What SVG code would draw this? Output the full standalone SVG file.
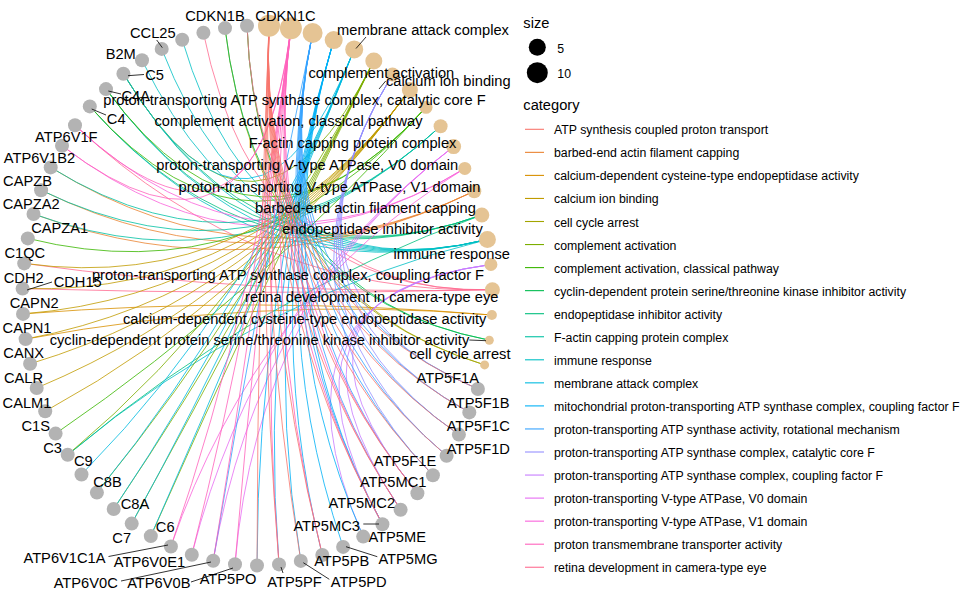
<svg xmlns="http://www.w3.org/2000/svg" width="960" height="593" viewBox="0 0 960 593">
<style>
.bg{fill:#fff}
#edges path{fill:none;stroke-width:1;stroke-opacity:.8}
.k0{stroke:#F8766D}.k1{stroke:#EA8331}.k2{stroke:#D89000}.k3{stroke:#C09B00}.k4{stroke:#A3A500}
.k5{stroke:#7CAE00}.k6{stroke:#39B600}.k7{stroke:#00BB4E}.k8{stroke:#00BF7D}.k9{stroke:#00C1A3}
.k10{stroke:#00BFC4}.k11{stroke:#00BAE0}.k12{stroke:#00B0F6}.k13{stroke:#35A2FF}.k14{stroke:#9590FF}
.k15{stroke:#C77CFF}.k16{stroke:#E76BF3}.k17{stroke:#FA62DB}.k18{stroke:#FF62BC}.k19{stroke:#FF6C91}
.cat{fill:#E5C494}
.gene{fill:#B3B3B3}
.lb{font-family:"Liberation Sans",Arial,Helvetica,sans-serif;font-size:14.67px;fill:#000;text-anchor:middle}
.seg{stroke:#000;stroke-width:.8;fill:none}
.lt{font-family:"Liberation Sans",Arial,Helvetica,sans-serif;font-size:14.67px;fill:#000}
.lg{font-family:"Liberation Sans",Arial,Helvetica,sans-serif;font-size:12.3px;fill:#000}
#legend line{stroke-width:1.1}
</style>
<rect class="bg" x="0" y="0" width="960" height="593"/>
<g id="edges">
<g class="k4">
<path d="M247 25.8Q257.5 295.5 484.6 364.9"/>
<path d="M225 28.1Q257.5 295.5 484.6 364.9"/>
</g>
<g class="k7">
<path d="M247 25.8Q257.5 295.5 489.3 340.2"/>
<path d="M225 28.1Q257.5 295.5 489.3 340.2"/>
</g>
<g class="k2">
<path d="M23 313.9Q257.5 295.5 491.9 315"/>
<path d="M25.6 339.1Q257.5 295.5 491.9 315"/>
</g>
<g class="k19">
<path d="M247 25.8Q257.5 295.5 492.4 289.7"/>
<path d="M203.4 32.8Q257.5 295.5 492.4 289.7"/>
<path d="M24.2 263.4Q257.5 295.5 492.4 289.7"/>
<path d="M22.6 288.6Q257.5 295.5 492.4 289.7"/>
<path d="M75 125.3Q257.5 295.5 492.4 289.7"/>
</g>
<g class="k15">
<path d="M363.2 536.6Q257.5 295.5 490.9 264.5"/>
<path d="M382.4 524.2Q257.5 295.5 490.9 264.5"/>
<path d="M400.6 509.7Q257.5 295.5 490.9 264.5"/>
<path d="M417.4 493.3Q257.5 295.5 490.9 264.5"/>
</g>
<g class="k10">
<path d="M182.2 39.7Q257.5 295.5 487.4 239.5"/>
<path d="M161.7 48.9Q257.5 295.5 487.4 239.5"/>
<path d="M142 60.3Q257.5 295.5 487.4 239.5"/>
<path d="M123.4 73.8Q257.5 295.5 487.4 239.5"/>
<path d="M106 89.1Q257.5 295.5 487.4 239.5"/>
<path d="M89.8 106.4Q257.5 295.5 487.4 239.5"/>
<path d="M67.7 454.8Q257.5 295.5 487.4 239.5"/>
</g>
<g class="k8">
<path d="M123.4 73.8Q257.5 295.5 481.8 215"/>
<path d="M106 89.1Q257.5 295.5 481.8 215"/>
<path d="M89.8 106.4Q257.5 295.5 481.8 215"/>
<path d="M67.7 454.8Q257.5 295.5 481.8 215"/>
</g>
<g class="k1">
<path d="M50.7 167.4Q257.5 295.5 474.3 191.2"/>
<path d="M41.1 190.2Q257.5 295.5 474.3 191.2"/>
<path d="M33.5 214Q257.5 295.5 474.3 191.2"/>
</g>
<g class="k17">
<path d="M75 125.3Q257.5 295.5 464.8 168.4"/>
<path d="M62 145.7Q257.5 295.5 464.8 168.4"/>
<path d="M170.9 546.5Q257.5 295.5 464.8 168.4"/>
</g>
<g class="k16">
<path d="M191.8 554.7Q257.5 295.5 453.6 146.6"/>
<path d="M213.2 560.7Q257.5 295.5 453.6 146.6"/>
<path d="M235 564.3Q257.5 295.5 453.6 146.6"/>
</g>
<g class="k9">
<path d="M50.7 167.4Q257.5 295.5 440.6 126.2"/>
<path d="M41.1 190.2Q257.5 295.5 440.6 126.2"/>
<path d="M33.5 214Q257.5 295.5 440.6 126.2"/>
</g>
<g class="k6">
<path d="M106 89.1Q257.5 295.5 426 107.3"/>
<path d="M89.8 106.4Q257.5 295.5 426 107.3"/>
<path d="M27.8 238.4Q257.5 295.5 426 107.3"/>
<path d="M55.6 433.6Q257.5 295.5 426 107.3"/>
</g>
<g class="k3">
<path d="M24.2 263.4Q257.5 295.5 409.9 90"/>
<path d="M22.6 288.6Q257.5 295.5 409.9 90"/>
<path d="M23 313.9Q257.5 295.5 409.9 90"/>
<path d="M25.6 339.1Q257.5 295.5 409.9 90"/>
<path d="M30.1 363.8Q257.5 295.5 409.9 90"/>
<path d="M36.7 388Q257.5 295.5 409.9 90"/>
<path d="M45.2 411.3Q257.5 295.5 409.9 90"/>
</g>
<g class="k14">
<path d="M432.9 475.2Q257.5 295.5 392.5 74.5"/>
<path d="M446.6 455.7Q257.5 295.5 392.5 74.5"/>
<path d="M458.9 434.6Q257.5 295.5 392.5 74.5"/>
<path d="M469.3 412.4Q257.5 295.5 392.5 74.5"/>
<path d="M477.9 389Q257.5 295.5 392.5 74.5"/>
</g>
<g class="k5">
<path d="M123.4 73.8Q257.5 295.5 373.8 60.9"/>
<path d="M67.7 454.8Q257.5 295.5 373.8 60.9"/>
<path d="M96.9 492.6Q257.5 295.5 373.8 60.9"/>
<path d="M113.7 509Q257.5 295.5 373.8 60.9"/>
<path d="M131.7 523.6Q257.5 295.5 373.8 60.9"/>
<path d="M150.8 536.1Q257.5 295.5 373.8 60.9"/>
</g>
<g class="k11">
<path d="M123.4 73.8Q257.5 295.5 354.2 49.4"/>
<path d="M81.5 474.5Q257.5 295.5 354.2 49.4"/>
<path d="M96.9 492.6Q257.5 295.5 354.2 49.4"/>
<path d="M113.7 509Q257.5 295.5 354.2 49.4"/>
<path d="M131.7 523.6Q257.5 295.5 354.2 49.4"/>
<path d="M150.8 536.1Q257.5 295.5 354.2 49.4"/>
</g>
<g class="k12">
<path d="M257 565.5Q257.5 295.5 333.7 40.1"/>
<path d="M279 564.4Q257.5 295.5 333.7 40.1"/>
<path d="M300.8 560.9Q257.5 295.5 333.7 40.1"/>
<path d="M322.3 555Q257.5 295.5 333.7 40.1"/>
<path d="M343.1 546.9Q257.5 295.5 333.7 40.1"/>
<path d="M363.2 536.6Q257.5 295.5 333.7 40.1"/>
<path d="M382.4 524.2Q257.5 295.5 333.7 40.1"/>
</g>
<g class="k13">
<path d="M213.2 560.7Q257.5 295.5 312.6 33"/>
<path d="M382.4 524.2Q257.5 295.5 312.6 33"/>
<path d="M400.6 509.7Q257.5 295.5 312.6 33"/>
<path d="M417.4 493.3Q257.5 295.5 312.6 33"/>
<path d="M432.9 475.2Q257.5 295.5 312.6 33"/>
<path d="M446.6 455.7Q257.5 295.5 312.6 33"/>
<path d="M458.9 434.6Q257.5 295.5 312.6 33"/>
<path d="M469.3 412.4Q257.5 295.5 312.6 33"/>
<path d="M477.9 389Q257.5 295.5 312.6 33"/>
</g>
<g class="k18">
<path d="M75 125.3Q257.5 295.5 290.9 28.2"/>
<path d="M62 145.7Q257.5 295.5 290.9 28.2"/>
<path d="M170.9 546.5Q257.5 295.5 290.9 28.2"/>
<path d="M191.8 554.7Q257.5 295.5 290.9 28.2"/>
<path d="M213.2 560.7Q257.5 295.5 290.9 28.2"/>
<path d="M235 564.3Q257.5 295.5 290.9 28.2"/>
<path d="M279 564.4Q257.5 295.5 290.9 28.2"/>
<path d="M322.3 555Q257.5 295.5 290.9 28.2"/>
<path d="M382.4 524.2Q257.5 295.5 290.9 28.2"/>
<path d="M400.6 509.7Q257.5 295.5 290.9 28.2"/>
<path d="M417.4 493.3Q257.5 295.5 290.9 28.2"/>
</g>
<g class="k0">
<path d="M257 565.5Q257.5 295.5 269 25.8"/>
<path d="M279 564.4Q257.5 295.5 269 25.8"/>
<path d="M300.8 560.9Q257.5 295.5 269 25.8"/>
<path d="M322.3 555Q257.5 295.5 269 25.8"/>
<path d="M382.4 524.2Q257.5 295.5 269 25.8"/>
<path d="M400.6 509.7Q257.5 295.5 269 25.8"/>
<path d="M417.4 493.3Q257.5 295.5 269 25.8"/>
<path d="M432.9 475.2Q257.5 295.5 269 25.8"/>
<path d="M446.6 455.7Q257.5 295.5 269 25.8"/>
<path d="M458.9 434.6Q257.5 295.5 269 25.8"/>
<path d="M469.3 412.4Q257.5 295.5 269 25.8"/>
<path d="M477.9 389Q257.5 295.5 269 25.8"/>
</g>
</g>
<g id="nodes">
<g id="cat-cell-cycle-arrest"><circle class="cat" cx="484.6" cy="364.9" r="4.5"/></g>
<g id="cat-cyclin-dependent"><circle class="cat" cx="489.3" cy="340.2" r="4.5"/></g>
<g id="cat-calcium-dependent"><circle class="cat" cx="491.9" cy="315" r="5"/></g>
<g id="cat-retina"><circle class="cat" cx="492.4" cy="289.7" r="7.5"/></g>
<g id="cat-coupling-factor-f"><circle class="cat" cx="490.9" cy="264.5" r="6.5"/></g>
<g id="cat-immune-response"><circle class="cat" cx="487.4" cy="239.5" r="8.5"/></g>
<g id="cat-endopeptidase-inhibitor"><circle class="cat" cx="481.8" cy="215" r="7.5"/></g>
<g id="cat-barbed-end"><circle class="cat" cx="474.3" cy="191.2" r="7"/></g>
<g id="cat-v1-domain"><circle class="cat" cx="464.8" cy="168.4" r="6.5"/></g>
<g id="cat-v0-domain"><circle class="cat" cx="453.6" cy="146.6" r="7.5"/></g>
<g id="cat-f-actin"><circle class="cat" cx="440.6" cy="126.2" r="7"/></g>
<g id="cat-classical"><circle class="cat" cx="426" cy="107.3" r="6.5"/></g>
<g id="cat-calcium-ion"><circle class="cat" cx="409.9" cy="90" r="8"/></g>
<g id="cat-catalytic-core"><circle class="cat" cx="392.5" cy="74.5" r="7"/></g>
<g id="cat-complement-activation"><circle class="cat" cx="373.8" cy="60.9" r="8.5"/></g>
<g id="cat-membrane-attack"><circle class="cat" cx="354.2" cy="49.4" r="9"/></g>
<g id="cat-mito-coupling"><circle class="cat" cx="333.7" cy="40.1" r="9"/></g>
<g id="cat-rotational"><circle class="cat" cx="312.6" cy="33" r="10"/></g>
<g id="cat-proton-transmembrane"><circle class="cat" cx="290.9" cy="28.2" r="11"/></g>
<g id="cat-atp-synthesis"><circle class="cat" cx="269" cy="25.8" r="11"/></g>
<g id="g-CDKN1C"><circle class="gene" cx="247" cy="25.8" r="7"/></g>
<g id="g-CDKN1B"><circle class="gene" cx="225" cy="28.1" r="7"/></g>
<g id="g-gene22"><circle class="gene" cx="203.4" cy="32.8" r="7"/></g>
<g id="g-gene23"><circle class="gene" cx="182.2" cy="39.7" r="7"/></g>
<g id="g-CCL25"><circle class="gene" cx="161.7" cy="48.9" r="7"/></g>
<g id="g-B2M"><circle class="gene" cx="142" cy="60.3" r="7"/></g>
<g id="g-C5"><circle class="gene" cx="123.4" cy="73.8" r="7"/></g>
<g id="g-C4A"><circle class="gene" cx="106" cy="89.1" r="7"/></g>
<g id="g-C4"><circle class="gene" cx="89.8" cy="106.4" r="7"/></g>
<g id="g-ATP6V1F"><circle class="gene" cx="75" cy="125.3" r="7"/></g>
<g id="g-ATP6V1B2"><circle class="gene" cx="62" cy="145.7" r="7"/></g>
<g id="g-CAPZB"><circle class="gene" cx="50.7" cy="167.4" r="7"/></g>
<g id="g-CAPZA2"><circle class="gene" cx="41.1" cy="190.2" r="7"/></g>
<g id="g-CAPZA1"><circle class="gene" cx="33.5" cy="214" r="7"/></g>
<g id="g-C1QC"><circle class="gene" cx="27.8" cy="238.4" r="7"/></g>
<g id="g-CDH2"><circle class="gene" cx="24.2" cy="263.4" r="7"/></g>
<g id="g-CDH15"><circle class="gene" cx="22.6" cy="288.6" r="7"/></g>
<g id="g-CAPN2"><circle class="gene" cx="23" cy="313.9" r="7"/></g>
<g id="g-CAPN1"><circle class="gene" cx="25.6" cy="339.1" r="7"/></g>
<g id="g-CANX"><circle class="gene" cx="30.1" cy="363.8" r="7"/></g>
<g id="g-CALR"><circle class="gene" cx="36.7" cy="388" r="7"/></g>
<g id="g-CALM1"><circle class="gene" cx="45.2" cy="411.3" r="7"/></g>
<g id="g-C1S"><circle class="gene" cx="55.6" cy="433.6" r="7"/></g>
<g id="g-C3"><circle class="gene" cx="67.7" cy="454.8" r="7"/></g>
<g id="g-C9"><circle class="gene" cx="81.5" cy="474.5" r="7"/></g>
<g id="g-C8B"><circle class="gene" cx="96.9" cy="492.6" r="7"/></g>
<g id="g-C8A"><circle class="gene" cx="113.7" cy="509" r="7"/></g>
<g id="g-C7"><circle class="gene" cx="131.7" cy="523.6" r="7"/></g>
<g id="g-C6"><circle class="gene" cx="150.8" cy="536.1" r="7"/></g>
<g id="g-ATP6V1C1A"><circle class="gene" cx="170.9" cy="546.5" r="7"/></g>
<g id="g-ATP6V0E1"><circle class="gene" cx="191.8" cy="554.7" r="7"/></g>
<g id="g-ATP6V0C"><circle class="gene" cx="213.2" cy="560.7" r="7"/></g>
<g id="g-ATP6V0B"><circle class="gene" cx="235" cy="564.3" r="7"/></g>
<g id="g-ATP5PO"><circle class="gene" cx="257" cy="565.5" r="7"/></g>
<g id="g-ATP5PF"><circle class="gene" cx="279" cy="564.4" r="7"/></g>
<g id="g-ATP5PD"><circle class="gene" cx="300.8" cy="560.9" r="7"/></g>
<g id="g-ATP5PB"><circle class="gene" cx="322.3" cy="555" r="7"/></g>
<g id="g-ATP5MG"><circle class="gene" cx="343.1" cy="546.9" r="7"/></g>
<g id="g-ATP5ME"><circle class="gene" cx="363.2" cy="536.6" r="7"/></g>
<g id="g-ATP5MC3"><circle class="gene" cx="382.4" cy="524.2" r="7"/></g>
<g id="g-ATP5MC2"><circle class="gene" cx="400.6" cy="509.7" r="7"/></g>
<g id="g-ATP5MC1"><circle class="gene" cx="417.4" cy="493.3" r="7"/></g>
<g id="g-ATP5F1E"><circle class="gene" cx="432.9" cy="475.2" r="7"/></g>
<g id="g-ATP5F1D"><circle class="gene" cx="446.6" cy="455.7" r="7"/></g>
<g id="g-ATP5F1C"><circle class="gene" cx="458.9" cy="434.6" r="7"/></g>
<g id="g-ATP5F1B"><circle class="gene" cx="469.3" cy="412.4" r="7"/></g>
<g id="g-ATP5F1A"><circle class="gene" cx="477.9" cy="389" r="7"/></g>
</g>
<g id="leaders">
<path class="seg" d="M156.7 40L162.3 47.7"/>
<path class="seg" d="M144 74.5L128 75.7"/>
<path class="seg" d="M121 94L108.3 91"/>
<path class="seg" d="M106 115L91.7 109"/>
<path class="seg" d="M366 37L356 48.5"/>
<path class="seg" d="M385.7 81L379 89"/>
<path class="seg" d="M52 282L27 290"/>
<path class="seg" d="M469.3 340L486 340.7"/>
<path class="seg" d="M108.5 556.5L168 545"/>
<path class="seg" d="M121 581L211 562"/>
<path class="seg" d="M191 582L233 568"/>
<path class="seg" d="M283 573L281 567"/>
<path class="seg" d="M329.3 579.3L303.3 562.7"/>
<path class="seg" d="M377.3 556.7L346 546.7"/>
<path class="seg" d="M363.3 524L379 524"/>
</g>
<g id="labels">
<text class="lb" x="423" y="35">membrane attack complex</text>
<text class="lb" x="381.3" y="78">complement activation</text>
<text class="lb" x="448.3" y="86">calcium ion binding</text>
<text class="lb" x="294.5" y="105">proton-transporting ATP synthase complex, catalytic core F</text>
<text class="lb" x="288.5" y="126">complement activation, classical pathway</text>
<text class="lb" x="352.5" y="148">F-actin capping protein complex</text>
<text class="lb" x="307.3" y="170">proton-transporting V-type ATPase, V0 domain</text>
<text class="lb" x="329.5" y="192">proton-transporting V-type ATPase, V1 domain</text>
<text class="lb" x="365.5" y="213">barbed-end actin filament capping</text>
<text class="lb" x="382.5" y="234">endopeptidase inhibitor activity</text>
<text class="lb" x="451.7" y="259">immune response</text>
<text class="lb" x="288" y="280">proton-transporting ATP synthase complex, coupling factor F</text>
<text class="lb" x="371.7" y="302">retina development in camera-type eye</text>
<text class="lb" x="304.7" y="324">calcium-dependent cysteine-type endopeptidase activity</text>
<text class="lb" x="259.5" y="345">cyclin-dependent protein serine/threonine kinase inhibitor activity</text>
<text class="lb" x="460" y="359">cell cycle arrest</text>
<text class="lb" x="285.5" y="21">CDKN1C</text>
<text class="lb" x="215" y="21">CDKN1B</text>
<text class="lb" x="152.8" y="38">CCL25</text>
<text class="lb" x="120.7" y="59">B2M</text>
<text class="lb" x="154.5" y="80">C5</text>
<text class="lb" x="135.8" y="101">C4A</text>
<text class="lb" x="116.2" y="124">C4</text>
<text class="lb" x="66.3" y="142">ATP6V1F</text>
<text class="lb" x="39.5" y="163">ATP6V1B2</text>
<text class="lb" x="27.5" y="186">CAPZB</text>
<text class="lb" x="31.2" y="209">CAPZA2</text>
<text class="lb" x="59.7" y="233">CAPZA1</text>
<text class="lb" x="24.8" y="258">C1QC</text>
<text class="lb" x="23.7" y="283">CDH2</text>
<text class="lb" x="77.7" y="287">CDH15</text>
<text class="lb" x="34.2" y="308">CAPN2</text>
<text class="lb" x="27" y="333">CAPN1</text>
<text class="lb" x="23.7" y="358">CANX</text>
<text class="lb" x="23.5" y="383">CALR</text>
<text class="lb" x="27" y="408">CALM1</text>
<text class="lb" x="35.8" y="431">C1S</text>
<text class="lb" x="52.5" y="453">C3</text>
<text class="lb" x="83.3" y="466">C9</text>
<text class="lb" x="107.5" y="487">C8B</text>
<text class="lb" x="135" y="509">C8A</text>
<text class="lb" x="121.7" y="543">C7</text>
<text class="lb" x="165.2" y="532">C6</text>
<text class="lb" x="64.5" y="563">ATP6V1C1A</text>
<text class="lb" x="149.5" y="567">ATP6V0E1</text>
<text class="lb" x="85.7" y="588">ATP6V0C</text>
<text class="lb" x="158.8" y="588">ATP6V0B</text>
<text class="lb" x="228" y="584">ATP5PO</text>
<text class="lb" x="294.5" y="587">ATP5PF</text>
<text class="lb" x="358.7" y="587">ATP5PD</text>
<text class="lb" x="341.7" y="566">ATP5PB</text>
<text class="lb" x="408" y="564">ATP5MG</text>
<text class="lb" x="397.2" y="542">ATP5ME</text>
<text class="lb" x="326.7" y="531">ATP5MC3</text>
<text class="lb" x="361.8" y="508">ATP5MC2</text>
<text class="lb" x="393.2" y="487">ATP5MC1</text>
<text class="lb" x="405" y="466">ATP5F1E</text>
<text class="lb" x="478.3" y="454">ATP5F1D</text>
<text class="lb" x="478.3" y="431">ATP5F1C</text>
<text class="lb" x="478.3" y="408">ATP5F1B</text>
<text class="lb" x="447.8" y="383">ATP5F1A</text>
</g>
<g id="legend">
<text class="lt" x="523.3" y="28.3">size</text>
<circle cx="537.3" cy="47.3" r="8.5" fill="#000"/>
<circle cx="537.3" cy="72.7" r="10.5" fill="#000"/>
<text class="lg" x="557.3" y="53">5</text>
<text class="lg" x="557.3" y="78">10</text>
<text class="lt" x="523.3" y="110">category</text>
<line class="k0" x1="525" y1="129.3" x2="544" y2="129.3"/>
<line class="k1" x1="525" y1="152.35" x2="544" y2="152.35"/>
<line class="k2" x1="525" y1="175.4" x2="544" y2="175.4"/>
<line class="k3" x1="525" y1="198.45" x2="544" y2="198.45"/>
<line class="k4" x1="525" y1="221.5" x2="544" y2="221.5"/>
<line class="k5" x1="525" y1="244.55" x2="544" y2="244.55"/>
<line class="k6" x1="525" y1="267.6" x2="544" y2="267.6"/>
<line class="k7" x1="525" y1="290.65" x2="544" y2="290.65"/>
<line class="k8" x1="525" y1="313.7" x2="544" y2="313.7"/>
<line class="k9" x1="525" y1="336.75" x2="544" y2="336.75"/>
<line class="k10" x1="525" y1="359.8" x2="544" y2="359.8"/>
<line class="k11" x1="525" y1="382.85" x2="544" y2="382.85"/>
<line class="k12" x1="525" y1="405.9" x2="544" y2="405.9"/>
<line class="k13" x1="525" y1="428.95" x2="544" y2="428.95"/>
<line class="k14" x1="525" y1="452" x2="544" y2="452"/>
<line class="k15" x1="525" y1="475.05" x2="544" y2="475.05"/>
<line class="k16" x1="525" y1="498.1" x2="544" y2="498.1"/>
<line class="k17" x1="525" y1="521.15" x2="544" y2="521.15"/>
<line class="k18" x1="525" y1="544.2" x2="544" y2="544.2"/>
<line class="k19" x1="525" y1="567.25" x2="544" y2="567.25"/>
<text class="lg" x="554" y="134.3">ATP synthesis coupled proton transport</text>
<text class="lg" x="554" y="157.35">barbed-end actin filament capping</text>
<text class="lg" x="554" y="180.4">calcium-dependent cysteine-type endopeptidase activity</text>
<text class="lg" x="554" y="203.45">calcium ion binding</text>
<text class="lg" x="554" y="226.5">cell cycle arrest</text>
<text class="lg" x="554" y="249.55">complement activation</text>
<text class="lg" x="554" y="272.6">complement activation, classical pathway</text>
<text class="lg" x="554" y="295.65">cyclin-dependent protein serine/threonine kinase inhibitor activity</text>
<text class="lg" x="554" y="318.7">endopeptidase inhibitor activity</text>
<text class="lg" x="554" y="341.75">F-actin capping protein complex</text>
<text class="lg" x="554" y="364.8">immune response</text>
<text class="lg" x="554" y="387.85">membrane attack complex</text>
<text class="lg" x="554" y="410.9">mitochondrial proton-transporting ATP synthase complex, coupling factor F</text>
<text class="lg" x="554" y="433.95">proton-transporting ATP synthase activity, rotational mechanism</text>
<text class="lg" x="554" y="457">proton-transporting ATP synthase complex, catalytic core F</text>
<text class="lg" x="554" y="480.05">proton-transporting ATP synthase complex, coupling factor F</text>
<text class="lg" x="554" y="503.1">proton-transporting V-type ATPase, V0 domain</text>
<text class="lg" x="554" y="526.15">proton-transporting V-type ATPase, V1 domain</text>
<text class="lg" x="554" y="549.2">proton transmembrane transporter activity</text>
<text class="lg" x="554" y="572.25">retina development in camera-type eye</text>
</g>
</svg>
